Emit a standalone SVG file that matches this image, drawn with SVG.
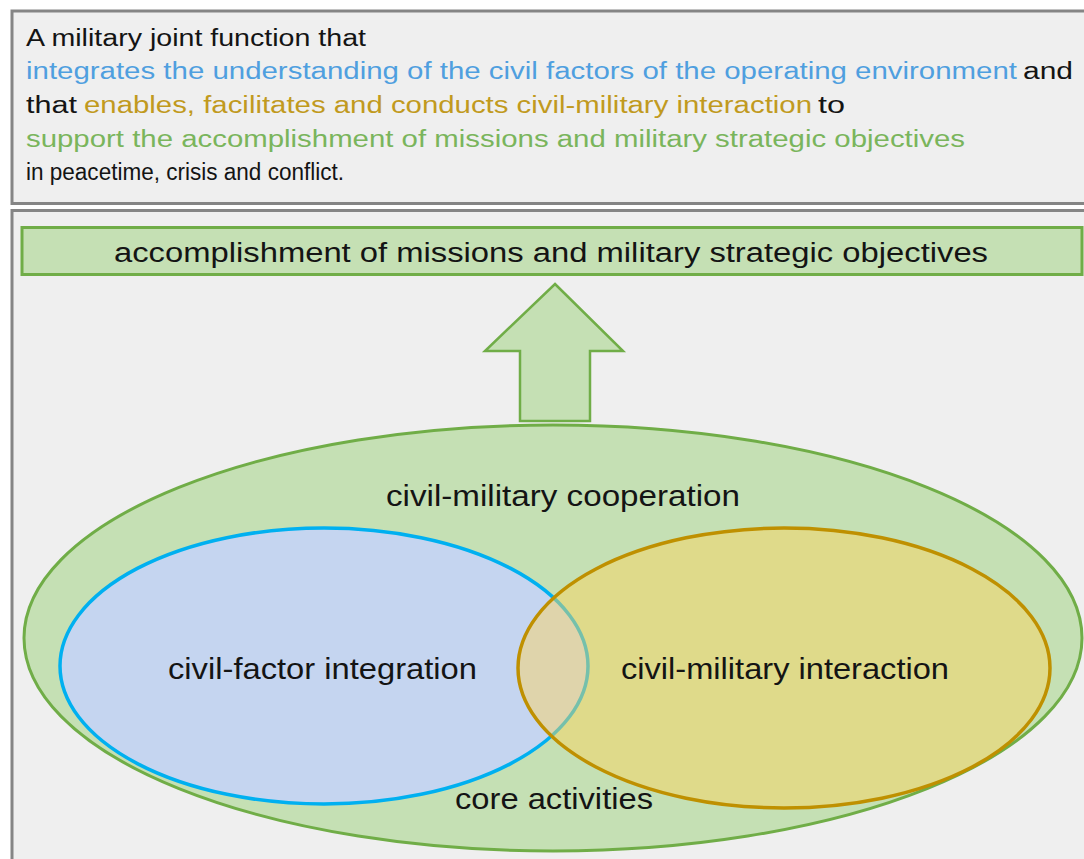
<svg xmlns="http://www.w3.org/2000/svg" width="1084" height="859" viewBox="0 0 1084 859">
  <style>
    .t { font-family: "Liberation Sans", Arial, sans-serif; }
    .hdr { font-size: 23px; }
    .lbl { font-size: 29px; fill: #141414; }
    .blk { fill: #141414; }
    .blu { fill: #4f9fdf; }
    .gld { fill: #c19a1e; }
    .grn { fill: #7ab55c; }
    .box { fill: #efefef; stroke: #858585; stroke-width: 3; }
    .gfill { fill: #c5e0b4; stroke: #70ad47; }
  </style>
  <rect x="0" y="0" width="1084" height="859" fill="#ffffff"/>

  <g id="definition">
    <rect class="box" x="12" y="11" width="1090" height="192.5"/>
    <text class="t hdr blk" x="26" y="46" textLength="340" lengthAdjust="spacingAndGlyphs">A military joint function that</text>
    <text class="t hdr blu" x="26" y="79" textLength="991" lengthAdjust="spacingAndGlyphs">integrates the understanding of the civil factors of the operating environment</text>
    <text class="t hdr blk" x="1023" y="79" textLength="50" lengthAdjust="spacingAndGlyphs">and</text>
    <text class="t hdr blk" x="26" y="113" textLength="51" lengthAdjust="spacingAndGlyphs">that</text>
    <text class="t hdr gld" x="84" y="113" textLength="728" lengthAdjust="spacingAndGlyphs">enables, facilitates and conducts civil-military interaction</text>
    <text class="t hdr blk" x="818" y="113" textLength="27" lengthAdjust="spacingAndGlyphs">to</text>
    <text class="t hdr grn" x="26" y="147" textLength="939" lengthAdjust="spacingAndGlyphs">support the accomplishment of missions and military strategic objectives</text>
    <text class="t hdr blk" x="26" y="180" textLength="318" lengthAdjust="spacingAndGlyphs">in peacetime, crisis and conflict.</text>
  </g>

  <g id="panel">
    <rect class="box" x="12" y="210.5" width="1090" height="680"/>
  </g>

  <g id="objectives">
    <rect class="gfill" x="22" y="227.5" width="1060" height="47" stroke-width="3"/>
    <text class="t lbl" x="114" y="262" style="font-size:27px" textLength="874" lengthAdjust="spacingAndGlyphs">accomplishment of missions and military strategic objectives</text>
  </g>

  <g id="connectors">
    <polygon class="gfill" stroke-width="2.5" stroke-linejoin="miter" points="555,284 623,351 590,351 590,421 520,421 520,351 485,351"/>
  </g>

  <g id="civil-military-cooperation">
    <ellipse class="gfill" cx="553" cy="638" rx="529" ry="213" stroke-width="3"/>
    <text class="t lbl" x="386" y="506" textLength="354" lengthAdjust="spacingAndGlyphs">civil-military cooperation</text>
    <text class="t lbl" x="455" y="809" textLength="198" lengthAdjust="spacingAndGlyphs">core activities</text>
  </g>

  <g id="civil-factor-integration">
    <ellipse cx="324" cy="666" rx="264" ry="138" fill="#c5d5f0" stroke="#00b0f0" stroke-width="3.5"/>
    <text class="t lbl" x="168" y="679" textLength="309" lengthAdjust="spacingAndGlyphs">civil-factor integration</text>
  </g>

  <g id="civil-military-interaction">
    <ellipse cx="784" cy="668" rx="266" ry="140" fill="#ffd359" fill-opacity="0.46" stroke="#bf9000" stroke-width="3.5"/>
    <text class="t lbl" x="621" y="679" textLength="328" lengthAdjust="spacingAndGlyphs">civil-military interaction</text>
  </g>
</svg>
